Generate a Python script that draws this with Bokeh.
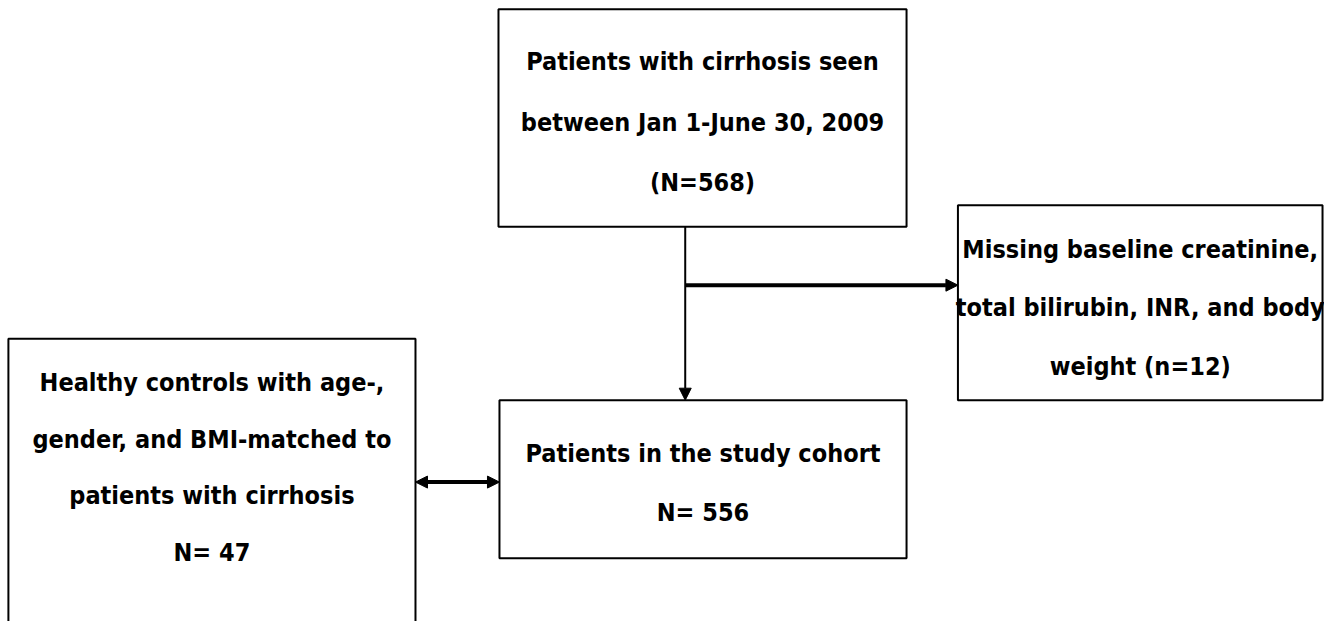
from bokeh.plotting import figure
from bokeh.models import Range1d, Arrow, NormalHead
from bokeh.core.properties import value
from bokeh.embed import file_html
from bokeh.resources import INLINE

# Content
box_names = ["source", "excluded", "cohort", "controls"]
box_texts = [
    ["Patients with cirrhosis seen", "between Jan 1-June 30, 2009", "(N=568)"],
    ["Missing baseline creatinine,", "total bilirubin, INR, and body", "weight (n=12)"],
    ["Patients in the study cohort", "N= 556"],
    ["Healthy controls with age-,", "gender, and BMI-matched to", "patients with cirrhosis", "N= 47"],
]

# Layout (reference pixel coordinates, y downward)
box_left = [504, 969, 505, 8]
box_right = [917, 1338, 917, 420]
box_top = [9, 210, 410, 347]
box_bottom = [232, 410, 572, 660]
text_center = [125, 315, 495, 479]
line_gap = [62, 60, 60, 58]

W, H = 1324, 621
p = figure(width=W, height=H, output_backend="svg", toolbar_location=None,
           x_range=Range1d(0, 1340), y_range=Range1d(637, 0),
           min_border=0)
p.axis.visible = False
p.grid.visible = False
p.outline_line_color = None
p.background_fill_color = "white"

p.quad(left=box_left, right=box_right, top=box_top, bottom=box_bottom,
       fill_color="white", line_color="black", line_width=2)

tx, ty, tt = [], [], []
for i, lines in enumerate(box_texts):
    cx = (box_left[i] + box_right[i]) / 2
    cy = text_center[i]
    n = len(lines)
    for j, s in enumerate(lines):
        tx.append(cx)
        ty.append(cy + (j - (n - 1) / 2) * line_gap[i])
        tt.append(s)

p.text(x=tx, y=ty, text=tt, text_font=value("DejaVu Sans Condensed"),
       text_font_style="bold", text_font_size="25px", text_align="center",
       text_baseline="middle", text_color="black")

# Connectors
vx = 693
p.add_layout(Arrow(end=NormalHead(size=12, fill_color="black", line_color="black"),
                   x_start=vx, y_start=232, x_end=vx, y_end=410,
                   line_width=2, line_color="black"))
p.add_layout(Arrow(end=NormalHead(size=12, fill_color="black", line_color="black"),
                   x_start=vx, y_start=292, x_end=969, y_end=292,
                   line_width=4, line_color="black"))
p.add_layout(Arrow(start=NormalHead(size=12, fill_color="black", line_color="black"),
                   end=NormalHead(size=12, fill_color="black", line_color="black"),
                   x_start=420, y_start=494, x_end=505, y_end=494,
                   line_width=4, line_color="black"))

open("out.html", "w").write(file_html(p, INLINE))
